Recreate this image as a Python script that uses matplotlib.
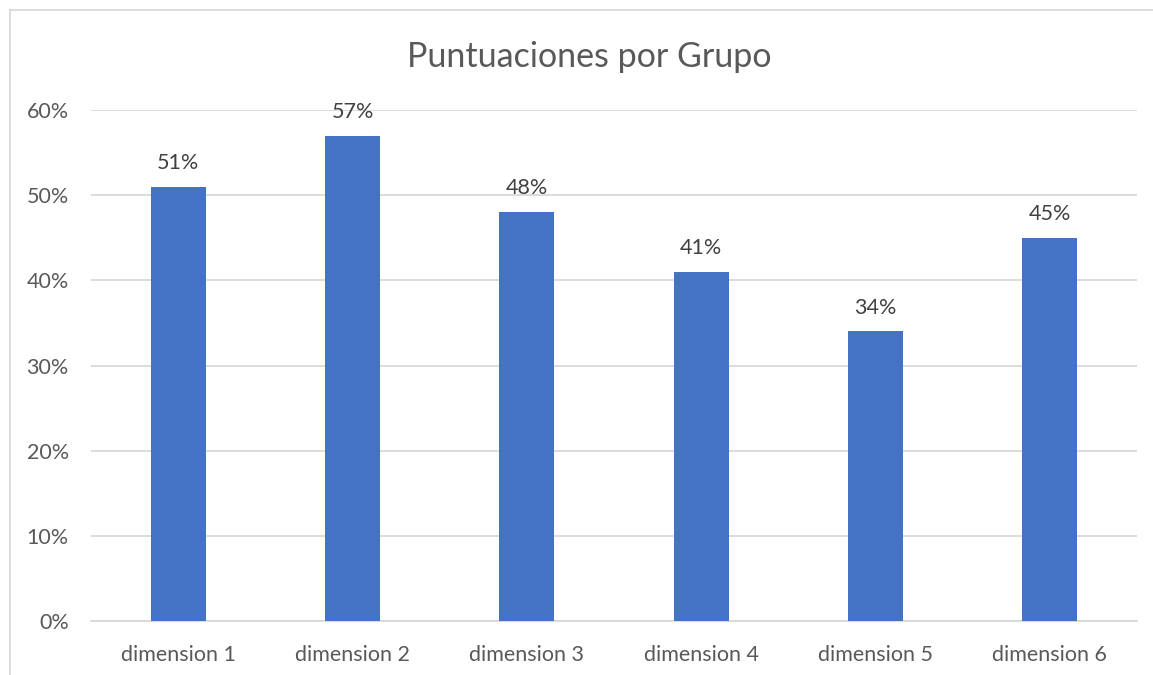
import matplotlib.pyplot as plt
from matplotlib.ticker import PercentFormatter
from matplotlib.lines import Line2D

categories = ['dimension 1', 'dimension 2', 'dimension 3',
              'dimension 4', 'dimension 5', 'dimension 6']
values = [0.51, 0.57, 0.48, 0.41, 0.34, 0.45]
labels = ['51%', '57%', '48%', '41%', '34%', '45%']

plt.rcParams['font.family'] = ['Lato', 'DejaVu Sans']
txt = '#595959'

fig = plt.figure(figsize=(11.53, 6.75), dpi=100)
ax = fig.add_axes([91/1153, 1 - 621/675, (1137 - 91)/1153, (621 - 110)/675])

x = range(len(categories))
bars = ax.bar(x, values, width=0.315, color='#4472C4', zorder=3)
for b, lab in zip(bars, labels):
    ax.annotate(lab, (b.get_x() + b.get_width()/2, b.get_height()),
                xytext=(0, 10), textcoords='offset points',
                ha='center', va='bottom', fontsize=15.5, color='#404040')

ax.set_xlim(-0.5, len(categories) - 0.5)
ax.set_ylim(0, 0.6)
ax.set_yticks([0, 0.1, 0.2, 0.3, 0.4, 0.5, 0.6])
ax.yaxis.set_major_formatter(PercentFormatter(1.0, decimals=0))
ax.set_xticks(list(x))
ax.set_xticklabels(categories)
ax.tick_params(axis='both', length=0, labelsize=15.5, colors=txt)
ax.tick_params(axis='x', pad=17)
ax.tick_params(axis='y', pad=16)
ax.grid(axis='y', color='#D9D9D9', linewidth=1.3, zorder=0)
for s in ['top', 'right', 'left']:
    ax.spines[s].set_visible(False)
ax.spines['bottom'].set_color('#D9D9D9')
ax.spines['bottom'].set_linewidth(1.3)

fig.text(589/1153, 1 - 57/675, 'Puntuaciones por Grupo', ha='center', va='center',
         fontsize=24.5, color=txt)

# chart border (left and top edges visible)
fig.add_artist(Line2D([10/1153, 10/1153], [0, 1 - 10/675], transform=fig.transFigure,
                      color='#D9D9D9', linewidth=1.3))
fig.add_artist(Line2D([10/1153, 1], [1 - 10/675, 1 - 10/675], transform=fig.transFigure,
                      color='#D9D9D9', linewidth=1.3))

fig.savefig('out.png', dpi=100)
